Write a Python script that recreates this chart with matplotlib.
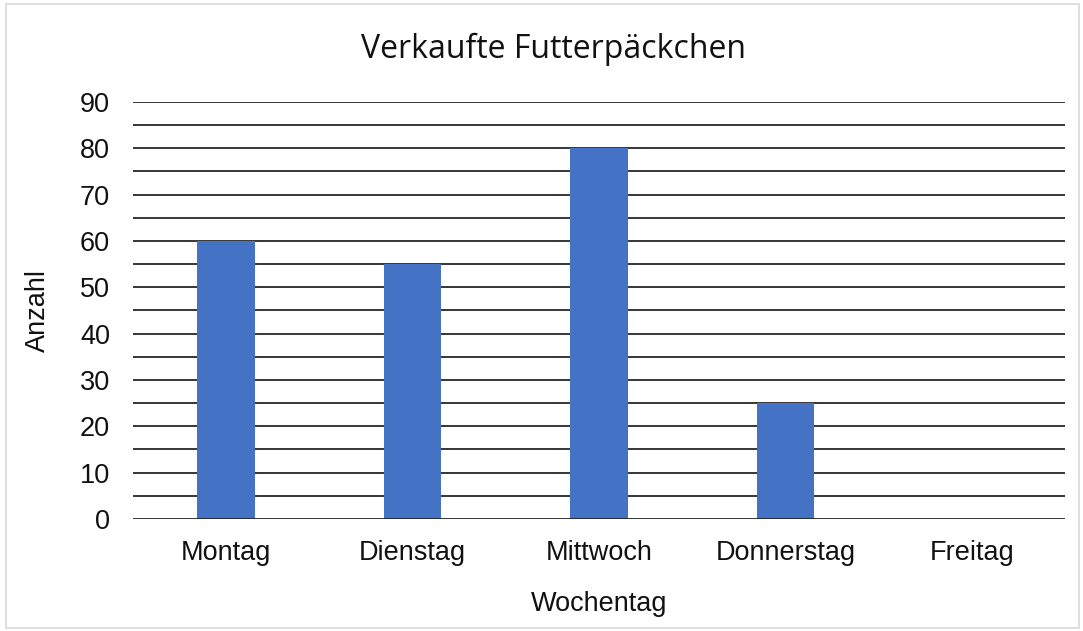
import matplotlib
matplotlib.use("Agg")
import matplotlib.pyplot as plt
from matplotlib.patches import Rectangle

tage = ["Montag", "Dienstag", "Mittwoch", "Donnerstag", "Freitag"]
anzahl = [60, 55, 80, 25, 0]
y_ticks = [0, 10, 20, 30, 40, 50, 60, 70, 80, 90]
grid_lines = [5, 10, 15, 20, 25, 30, 35, 40, 45, 50, 55, 60, 65, 70, 75, 80, 85, 90]

plt.rcParams['font.family'] = ['Liberation Sans', 'DejaVu Sans']

fig = plt.figure(figsize=(10.83, 6.31), dpi=100)
ax = fig.add_axes([0.1228, 0.1775, 0.8606, 0.6609])

for g in grid_lines:
    ax.axhline(g, color='#262626', lw=1.3, zorder=1)
ax.axhline(0, color='#262626', lw=1.3, zorder=3)

x = range(len(tage))
ax.bar(x, anzahl, width=0.31, color='#4472C4', zorder=2)

ax.set_xlim(-0.5, len(tage) - 0.5)
ax.set_ylim(0, 90)
ax.set_yticks(y_ticks)
ax.set_xticks(list(x))
ax.set_xticklabels(tage)
ax.tick_params(axis='both', length=0, labelsize=19.5, labelcolor='#111111')
ax.tick_params(axis='y', pad=16.5)
ax.tick_params(axis='x', pad=15)
for s in ax.spines.values():
    s.set_visible(False)

ax.set_xlabel("Wochentag", fontsize=19.5, labelpad=18, color='#111111')
ax.set_ylabel("Anzahl", fontsize=19.5, labelpad=21, color='#111111')
fig.text(0.511, 0.921, "Verkaufte Futterpäckchen", ha='center', va='center',
         fontsize=23, family=['Open Sans', 'DejaVu Sans'], color='#111111')

fig.patches.append(Rectangle((0.006, 0.004), 0.99, 0.99, transform=fig.transFigure,
                             fill=False, edgecolor='#d9d9d9', lw=1.2))

fig.savefig("out.png", dpi=100)
